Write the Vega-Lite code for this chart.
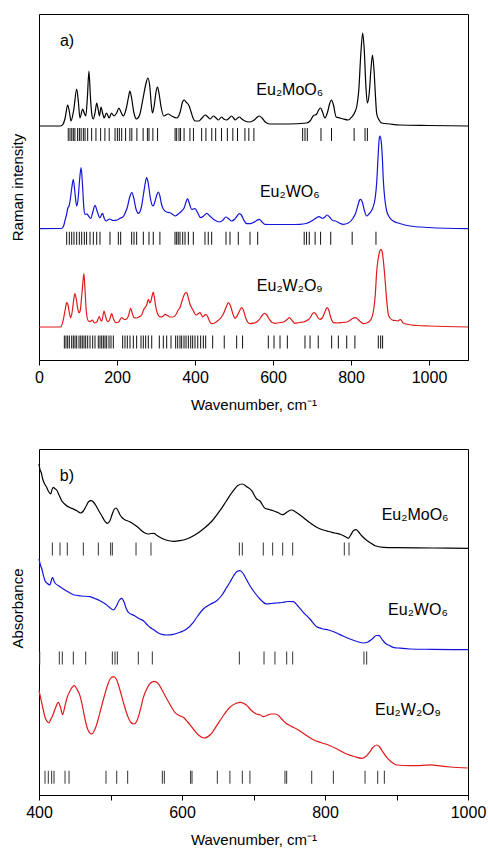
{
"$schema": "https://vega.github.io/schema/vega-lite/v6.json",
"padding": {"left": 9, "top": 13, "right": 5, "bottom": 5},
"spacing": 35,
"config": {
  "font": "Liberation Sans",
  "view": {"stroke": "black", "strokeWidth": 1},
  "axis": {"labelFont": "Liberation Sans", "titleFont": "Liberation Sans", "labelFontSize": 16, "titleFontSize": 15, "titleFontWeight": "normal", "labelColor": "black", "titleColor": "black", "domainColor": "black", "tickColor": "black", "grid": false}
},
"datasets": {
"lev": [{"s":"Eu2MoO6","lv":225.5},{"s":"Eu2WO6","lv":121.7},{"s":"Eu2W2O9","lv":18},{"s":"aMo","lv":246},{"s":"aW","lv":137},{"s":"aW2","lv":17.7}],
"ramanLab": [{"t":"a)","w":72,"v":319},{"t":"Eu₂MoO₆","w":643,"v":270},{"t":"Eu₂WO₆","w":643,"v":168},{"t":"Eu₂W₂O₉","w":643,"v":74}],
"absLab": [{"t":"b)","w":439,"v":319},{"t":"Eu₂MoO₆","w":926,"v":280},{"t":"Eu₂WO₆","w":930,"v":185},{"t":"Eu₂W₂O₉","w":916,"v":85}],
"raman": [
{"s":"Eu2MoO6","w":0,"v":234},{"s":"Eu2MoO6","w":55,"v":234},{"s":"Eu2MoO6","w":62,"v":236},{"s":"Eu2MoO6","w":67,"v":242},{"s":"Eu2MoO6","w":73.5,"v":255},{"s":"Eu2MoO6","w":78,"v":248},{"s":"Eu2MoO6","w":82,"v":239},{"s":"Eu2MoO6","w":89,"v":250},{"s":"Eu2MoO6","w":96.6,"v":271},{"s":"Eu2MoO6","w":101,"v":258},{"s":"Eu2MoO6","w":105,"v":242},{"s":"Eu2MoO6","w":112,"v":251},{"s":"Eu2MoO6","w":116,"v":247},{"s":"Eu2MoO6","w":120,"v":244},{"s":"Eu2MoO6","w":124,"v":262},{"s":"Eu2MoO6","w":128,"v":289},{"s":"Eu2MoO6","w":132,"v":262},{"s":"Eu2MoO6","w":136,"v":244},{"s":"Eu2MoO6","w":139,"v":241},{"s":"Eu2MoO6","w":144,"v":248},{"s":"Eu2MoO6","w":148,"v":257},{"s":"Eu2MoO6","w":152,"v":250},{"s":"Eu2MoO6","w":155,"v":244},{"s":"Eu2MoO6","w":159,"v":253},{"s":"Eu2MoO6","w":163,"v":247},{"s":"Eu2MoO6","w":167,"v":242},{"s":"Eu2MoO6","w":173,"v":247},{"s":"Eu2MoO6","w":180,"v":242},{"s":"Eu2MoO6","w":186,"v":247},{"s":"Eu2MoO6","w":192,"v":244},{"s":"Eu2MoO6","w":199,"v":247},{"s":"Eu2MoO6","w":205,"v":252},{"s":"Eu2MoO6","w":210,"v":248},{"s":"Eu2MoO6","w":216,"v":244},{"s":"Eu2MoO6","w":224,"v":252},{"s":"Eu2MoO6","w":229,"v":262},{"s":"Eu2MoO6","w":233,"v":269},{"s":"Eu2MoO6","w":237,"v":263},{"s":"Eu2MoO6","w":243,"v":248},{"s":"Eu2MoO6","w":250,"v":241},{"s":"Eu2MoO6","w":258,"v":245},{"s":"Eu2MoO6","w":266,"v":260},{"s":"Eu2MoO6","w":274,"v":276},{"s":"Eu2MoO6","w":279,"v":282},{"s":"Eu2MoO6","w":284,"v":274},{"s":"Eu2MoO6","w":288,"v":255},{"s":"Eu2MoO6","w":291,"v":247},{"s":"Eu2MoO6","w":296,"v":256},{"s":"Eu2MoO6","w":300,"v":268},{"s":"Eu2MoO6","w":304,"v":273},{"s":"Eu2MoO6","w":308,"v":266},{"s":"Eu2MoO6","w":313,"v":253},{"s":"Eu2MoO6","w":320,"v":244},{"s":"Eu2MoO6","w":331,"v":246},{"s":"Eu2MoO6","w":340,"v":244},{"s":"Eu2MoO6","w":353,"v":242},{"s":"Eu2MoO6","w":362,"v":248},{"s":"Eu2MoO6","w":368,"v":258},{"s":"Eu2MoO6","w":372,"v":260},{"s":"Eu2MoO6","w":377,"v":258},{"s":"Eu2MoO6","w":385,"v":254},{"s":"Eu2MoO6","w":390,"v":248},{"s":"Eu2MoO6","w":395,"v":242},{"s":"Eu2MoO6","w":400,"v":239},{"s":"Eu2MoO6","w":410,"v":239},{"s":"Eu2MoO6","w":418,"v":242},{"s":"Eu2MoO6","w":426,"v":245},{"s":"Eu2MoO6","w":433,"v":243},{"s":"Eu2MoO6","w":439,"v":241},{"s":"Eu2MoO6","w":447,"v":244},{"s":"Eu2MoO6","w":454,"v":242},{"s":"Eu2MoO6","w":460,"v":240},{"s":"Eu2MoO6","w":468,"v":243},{"s":"Eu2MoO6","w":474,"v":241},{"s":"Eu2MoO6","w":481,"v":240},{"s":"Eu2MoO6","w":488,"v":242},{"s":"Eu2MoO6","w":494,"v":244},{"s":"Eu2MoO6","w":499,"v":242},{"s":"Eu2MoO6","w":503,"v":240},{"s":"Eu2MoO6","w":509,"v":242},{"s":"Eu2MoO6","w":514,"v":243},{"s":"Eu2MoO6","w":520,"v":241},{"s":"Eu2MoO6","w":528,"v":239},{"s":"Eu2MoO6","w":540,"v":238},{"s":"Eu2MoO6","w":552,"v":240},{"s":"Eu2MoO6","w":560,"v":243},{"s":"Eu2MoO6","w":565,"v":244},{"s":"Eu2MoO6","w":572,"v":242},{"s":"Eu2MoO6","w":580,"v":238},{"s":"Eu2MoO6","w":592,"v":236},{"s":"Eu2MoO6","w":640,"v":236},{"s":"Eu2MoO6","w":686,"v":237},{"s":"Eu2MoO6","w":695,"v":239},{"s":"Eu2MoO6","w":703,"v":244},{"s":"Eu2MoO6","w":712,"v":246},{"s":"Eu2MoO6","w":717,"v":250},{"s":"Eu2MoO6","w":722,"v":252},{"s":"Eu2MoO6","w":727,"v":248},{"s":"Eu2MoO6","w":733,"v":242},{"s":"Eu2MoO6","w":740,"v":248},{"s":"Eu2MoO6","w":745,"v":256},{"s":"Eu2MoO6","w":750,"v":260},{"s":"Eu2MoO6","w":755,"v":255},{"s":"Eu2MoO6","w":762,"v":243},{"s":"Eu2MoO6","w":772,"v":242},{"s":"Eu2MoO6","w":780,"v":241},{"s":"Eu2MoO6","w":793,"v":240},{"s":"Eu2MoO6","w":802,"v":243},{"s":"Eu2MoO6","w":810,"v":248},{"s":"Eu2MoO6","w":815,"v":254},{"s":"Eu2MoO6","w":820,"v":270},{"s":"Eu2MoO6","w":825,"v":305},{"s":"Eu2MoO6","w":830,"v":327},{"s":"Eu2MoO6","w":834,"v":310},{"s":"Eu2MoO6","w":838,"v":275},{"s":"Eu2MoO6","w":842,"v":257},{"s":"Eu2MoO6","w":847,"v":268},{"s":"Eu2MoO6","w":851,"v":290},{"s":"Eu2MoO6","w":855,"v":305},{"s":"Eu2MoO6","w":859,"v":290},{"s":"Eu2MoO6","w":863,"v":262},{"s":"Eu2MoO6","w":866,"v":246},{"s":"Eu2MoO6","w":872,"v":240},{"s":"Eu2MoO6","w":879,"v":237},{"s":"Eu2MoO6","w":900,"v":236},{"s":"Eu2MoO6","w":926,"v":235},{"s":"Eu2MoO6","w":1000,"v":234.5},{"s":"Eu2MoO6","w":1100,"v":234},
{"s":"Eu2WO6","w":0,"v":131.3},{"s":"Eu2WO6","w":58,"v":131.5},{"s":"Eu2WO6","w":63,"v":134},{"s":"Eu2WO6","w":67,"v":140},{"s":"Eu2WO6","w":71,"v":146},{"s":"Eu2WO6","w":74,"v":152},{"s":"Eu2WO6","w":77,"v":154},{"s":"Eu2WO6","w":80,"v":160},{"s":"Eu2WO6","w":84,"v":172},{"s":"Eu2WO6","w":88,"v":180.7},{"s":"Eu2WO6","w":92,"v":168},{"s":"Eu2WO6","w":96.6,"v":154},{"s":"Eu2WO6","w":100,"v":160},{"s":"Eu2WO6","w":104,"v":180},{"s":"Eu2WO6","w":108,"v":192.3},{"s":"Eu2WO6","w":112,"v":172},{"s":"Eu2WO6","w":115,"v":152},{"s":"Eu2WO6","w":118,"v":145.7},{"s":"Eu2WO6","w":123,"v":146},{"s":"Eu2WO6","w":127,"v":144},{"s":"Eu2WO6","w":132.5,"v":141.7},{"s":"Eu2WO6","w":138,"v":148},{"s":"Eu2WO6","w":143.6,"v":154.7},{"s":"Eu2WO6","w":149,"v":149},{"s":"Eu2WO6","w":156,"v":142.3},{"s":"Eu2WO6","w":160,"v":145},{"s":"Eu2WO6","w":163,"v":146.7},{"s":"Eu2WO6","w":167,"v":142},{"s":"Eu2WO6","w":172,"v":139},{"s":"Eu2WO6","w":181,"v":141},{"s":"Eu2WO6","w":190,"v":139.5},{"s":"Eu2WO6","w":200,"v":140},{"s":"Eu2WO6","w":208,"v":141.7},{"s":"Eu2WO6","w":215,"v":143},{"s":"Eu2WO6","w":220,"v":146.3},{"s":"Eu2WO6","w":226,"v":152},{"s":"Eu2WO6","w":232,"v":162},{"s":"Eu2WO6","w":238,"v":167.3},{"s":"Eu2WO6","w":243,"v":162},{"s":"Eu2WO6","w":248,"v":152},{"s":"Eu2WO6","w":255,"v":146.7},{"s":"Eu2WO6","w":262,"v":152},{"s":"Eu2WO6","w":268,"v":166},{"s":"Eu2WO6","w":272,"v":176},{"s":"Eu2WO6","w":276,"v":182.3},{"s":"Eu2WO6","w":280,"v":177},{"s":"Eu2WO6","w":285,"v":163},{"s":"Eu2WO6","w":290,"v":155},{"s":"Eu2WO6","w":293,"v":154},{"s":"Eu2WO6","w":297,"v":158},{"s":"Eu2WO6","w":302,"v":165},{"s":"Eu2WO6","w":306,"v":168},{"s":"Eu2WO6","w":310,"v":164},{"s":"Eu2WO6","w":314,"v":156},{"s":"Eu2WO6","w":319,"v":150.7},{"s":"Eu2WO6","w":327,"v":148},{"s":"Eu2WO6","w":336,"v":147.3},{"s":"Eu2WO6","w":343,"v":145.5},{"s":"Eu2WO6","w":349,"v":144},{"s":"Eu2WO6","w":357,"v":146},{"s":"Eu2WO6","w":366,"v":149},{"s":"Eu2WO6","w":372,"v":152},{"s":"Eu2WO6","w":377,"v":158},{"s":"Eu2WO6","w":381,"v":161.3},{"s":"Eu2WO6","w":386,"v":156},{"s":"Eu2WO6","w":391.5,"v":150.7},{"s":"Eu2WO6","w":396,"v":151},{"s":"Eu2WO6","w":400,"v":151.3},{"s":"Eu2WO6","w":407,"v":147},{"s":"Eu2WO6","w":414.5,"v":142.3},{"s":"Eu2WO6","w":422,"v":144},{"s":"Eu2WO6","w":430,"v":146.7},{"s":"Eu2WO6","w":438,"v":144},{"s":"Eu2WO6","w":450,"v":140},{"s":"Eu2WO6","w":464,"v":138},{"s":"Eu2WO6","w":472,"v":140},{"s":"Eu2WO6","w":479,"v":143},{"s":"Eu2WO6","w":487,"v":141},{"s":"Eu2WO6","w":494,"v":139},{"s":"Eu2WO6","w":502,"v":141},{"s":"Eu2WO6","w":508,"v":144},{"s":"Eu2WO6","w":513.6,"v":146.3},{"s":"Eu2WO6","w":519,"v":145},{"s":"Eu2WO6","w":525,"v":140},{"s":"Eu2WO6","w":532.5,"v":136.3},{"s":"Eu2WO6","w":541,"v":136.3},{"s":"Eu2WO6","w":550,"v":137.5},{"s":"Eu2WO6","w":558,"v":139.5},{"s":"Eu2WO6","w":565,"v":140.7},{"s":"Eu2WO6","w":572,"v":138},{"s":"Eu2WO6","w":579.5,"v":135.7},{"s":"Eu2WO6","w":600,"v":135.5},{"s":"Eu2WO6","w":640,"v":135.5},{"s":"Eu2WO6","w":669,"v":135.7},{"s":"Eu2WO6","w":685,"v":136.5},{"s":"Eu2WO6","w":699,"v":139},{"s":"Eu2WO6","w":709,"v":141.5},{"s":"Eu2WO6","w":718,"v":143.3},{"s":"Eu2WO6","w":727,"v":141.5},{"s":"Eu2WO6","w":733,"v":143},{"s":"Eu2WO6","w":739,"v":145},{"s":"Eu2WO6","w":746,"v":142.5},{"s":"Eu2WO6","w":753,"v":139.5},{"s":"Eu2WO6","w":760,"v":139},{"s":"Eu2WO6","w":770,"v":137},{"s":"Eu2WO6","w":780,"v":135.7},{"s":"Eu2WO6","w":793,"v":137},{"s":"Eu2WO6","w":806,"v":142.3},{"s":"Eu2WO6","w":812,"v":147},{"s":"Eu2WO6","w":818,"v":155},{"s":"Eu2WO6","w":822,"v":160},{"s":"Eu2WO6","w":825,"v":160.7},{"s":"Eu2WO6","w":829,"v":158},{"s":"Eu2WO6","w":834,"v":150},{"s":"Eu2WO6","w":840,"v":144},{"s":"Eu2WO6","w":846,"v":146},{"s":"Eu2WO6","w":852,"v":149},{"s":"Eu2WO6","w":856,"v":152.3},{"s":"Eu2WO6","w":862,"v":162},{"s":"Eu2WO6","w":866,"v":178},{"s":"Eu2WO6","w":869,"v":200},{"s":"Eu2WO6","w":872,"v":220},{"s":"Eu2WO6","w":874,"v":224},{"s":"Eu2WO6","w":877,"v":220},{"s":"Eu2WO6","w":880,"v":205},{"s":"Eu2WO6","w":883,"v":179},{"s":"Eu2WO6","w":887,"v":160},{"s":"Eu2WO6","w":891.5,"v":149},{"s":"Eu2WO6","w":898,"v":143},{"s":"Eu2WO6","w":908.5,"v":139},{"s":"Eu2WO6","w":925,"v":136.5},{"s":"Eu2WO6","w":951,"v":134},{"s":"Eu2WO6","w":1000,"v":132.5},{"s":"Eu2WO6","w":1100,"v":131.3},
{"s":"Eu2W2O9","w":0,"v":33},{"s":"Eu2W2O9","w":55.6,"v":33},{"s":"Eu2W2O9","w":62,"v":39.7},{"s":"Eu2W2O9","w":67,"v":50},{"s":"Eu2W2O9","w":71,"v":57.3},{"s":"Eu2W2O9","w":75,"v":54},{"s":"Eu2W2O9","w":78,"v":47},{"s":"Eu2W2O9","w":81,"v":42.3},{"s":"Eu2W2O9","w":85,"v":48},{"s":"Eu2W2O9","w":89,"v":60},{"s":"Eu2W2O9","w":92,"v":66.3},{"s":"Eu2W2O9","w":96,"v":60},{"s":"Eu2W2O9","w":100,"v":50},{"s":"Eu2W2O9","w":103,"v":47.3},{"s":"Eu2W2O9","w":106,"v":50},{"s":"Eu2W2O9","w":109,"v":62},{"s":"Eu2W2O9","w":112,"v":75},{"s":"Eu2W2O9","w":115,"v":86.3},{"s":"Eu2W2O9","w":118,"v":70},{"s":"Eu2W2O9","w":121,"v":50},{"s":"Eu2W2O9","w":126.5,"v":39},{"s":"Eu2W2O9","w":131,"v":38.5},{"s":"Eu2W2O9","w":137,"v":40},{"s":"Eu2W2O9","w":142,"v":37},{"s":"Eu2W2O9","w":148,"v":38},{"s":"Eu2W2O9","w":154.7,"v":43.3},{"s":"Eu2W2O9","w":158,"v":40},{"s":"Eu2W2O9","w":161,"v":39},{"s":"Eu2W2O9","w":166.7,"v":49},{"s":"Eu2W2O9","w":171,"v":43},{"s":"Eu2W2O9","w":176,"v":38.3},{"s":"Eu2W2O9","w":181,"v":40},{"s":"Eu2W2O9","w":186.3,"v":46.3},{"s":"Eu2W2O9","w":191,"v":41},{"s":"Eu2W2O9","w":197.4,"v":37.3},{"s":"Eu2W2O9","w":204,"v":38},{"s":"Eu2W2O9","w":212,"v":42.3},{"s":"Eu2W2O9","w":219,"v":40.5},{"s":"Eu2W2O9","w":225,"v":41},{"s":"Eu2W2O9","w":230,"v":45},{"s":"Eu2W2O9","w":235,"v":51.7},{"s":"Eu2W2O9","w":239,"v":47},{"s":"Eu2W2O9","w":243.6,"v":42.3},{"s":"Eu2W2O9","w":250,"v":42},{"s":"Eu2W2O9","w":256,"v":43},{"s":"Eu2W2O9","w":263.3,"v":45},{"s":"Eu2W2O9","w":268,"v":50},{"s":"Eu2W2O9","w":271.8,"v":52.3},{"s":"Eu2W2O9","w":276,"v":55},{"s":"Eu2W2O9","w":280.3,"v":60.7},{"s":"Eu2W2O9","w":284,"v":57},{"s":"Eu2W2O9","w":287,"v":59},{"s":"Eu2W2O9","w":290,"v":64},{"s":"Eu2W2O9","w":293,"v":68},{"s":"Eu2W2O9","w":296,"v":62},{"s":"Eu2W2O9","w":300,"v":52},{"s":"Eu2W2O9","w":304,"v":46.3},{"s":"Eu2W2O9","w":309,"v":43.5},{"s":"Eu2W2O9","w":314.5,"v":43},{"s":"Eu2W2O9","w":319,"v":44},{"s":"Eu2W2O9","w":323,"v":45.7},{"s":"Eu2W2O9","w":330,"v":44.5},{"s":"Eu2W2O9","w":336,"v":43},{"s":"Eu2W2O9","w":344,"v":43},{"s":"Eu2W2O9","w":352,"v":46},{"s":"Eu2W2O9","w":357,"v":50},{"s":"Eu2W2O9","w":361.5,"v":52.3},{"s":"Eu2W2O9","w":366,"v":58},{"s":"Eu2W2O9","w":371,"v":64},{"s":"Eu2W2O9","w":375,"v":67},{"s":"Eu2W2O9","w":378.6,"v":67.3},{"s":"Eu2W2O9","w":383,"v":62},{"s":"Eu2W2O9","w":387,"v":56},{"s":"Eu2W2O9","w":391.5,"v":52.3},{"s":"Eu2W2O9","w":396,"v":49},{"s":"Eu2W2O9","w":402.6,"v":45},{"s":"Eu2W2O9","w":407,"v":46},{"s":"Eu2W2O9","w":412.8,"v":47.3},{"s":"Eu2W2O9","w":416,"v":45.5},{"s":"Eu2W2O9","w":419.7,"v":43},{"s":"Eu2W2O9","w":424,"v":44.5},{"s":"Eu2W2O9","w":428,"v":45.7},{"s":"Eu2W2O9","w":433,"v":43},{"s":"Eu2W2O9","w":437,"v":39},{"s":"Eu2W2O9","w":442.7,"v":36.3},{"s":"Eu2W2O9","w":450,"v":37},{"s":"Eu2W2O9","w":459.8,"v":39.7},{"s":"Eu2W2O9","w":468,"v":43},{"s":"Eu2W2O9","w":475,"v":48},{"s":"Eu2W2O9","w":481,"v":54},{"s":"Eu2W2O9","w":485.5,"v":57.3},{"s":"Eu2W2O9","w":490,"v":55},{"s":"Eu2W2O9","w":495,"v":49},{"s":"Eu2W2O9","w":499,"v":44},{"s":"Eu2W2O9","w":502.6,"v":41.7},{"s":"Eu2W2O9","w":508,"v":44},{"s":"Eu2W2O9","w":514,"v":49},{"s":"Eu2W2O9","w":519.7,"v":52.3},{"s":"Eu2W2O9","w":524,"v":50},{"s":"Eu2W2O9","w":530,"v":42},{"s":"Eu2W2O9","w":535,"v":38},{"s":"Eu2W2O9","w":541,"v":36.3},{"s":"Eu2W2O9","w":550,"v":36.8},{"s":"Eu2W2O9","w":560,"v":38.5},{"s":"Eu2W2O9","w":566,"v":41},{"s":"Eu2W2O9","w":572,"v":44.5},{"s":"Eu2W2O9","w":577.8,"v":46.7},{"s":"Eu2W2O9","w":584,"v":45},{"s":"Eu2W2O9","w":590,"v":41},{"s":"Eu2W2O9","w":596,"v":38},{"s":"Eu2W2O9","w":605,"v":36.7},{"s":"Eu2W2O9","w":620,"v":37.5},{"s":"Eu2W2O9","w":630,"v":38.5},{"s":"Eu2W2O9","w":636,"v":40.5},{"s":"Eu2W2O9","w":641.9,"v":42.3},{"s":"Eu2W2O9","w":648,"v":40},{"s":"Eu2W2O9","w":656.4,"v":36.7},{"s":"Eu2W2O9","w":667,"v":37.5},{"s":"Eu2W2O9","w":677.8,"v":38},{"s":"Eu2W2O9","w":687,"v":39.5},{"s":"Eu2W2O9","w":695,"v":42},{"s":"Eu2W2O9","w":700,"v":45.5},{"s":"Eu2W2O9","w":705,"v":47.3},{"s":"Eu2W2O9","w":710,"v":46},{"s":"Eu2W2O9","w":715,"v":42.5},{"s":"Eu2W2O9","w":720.5,"v":40.7},{"s":"Eu2W2O9","w":726,"v":42},{"s":"Eu2W2O9","w":731,"v":46},{"s":"Eu2W2O9","w":735,"v":50},{"s":"Eu2W2O9","w":739,"v":52.3},{"s":"Eu2W2O9","w":743,"v":50},{"s":"Eu2W2O9","w":747,"v":44},{"s":"Eu2W2O9","w":751,"v":39.5},{"s":"Eu2W2O9","w":754.7,"v":37.3},{"s":"Eu2W2O9","w":765,"v":37},{"s":"Eu2W2O9","w":778,"v":37.5},{"s":"Eu2W2O9","w":789,"v":38},{"s":"Eu2W2O9","w":797,"v":39.5},{"s":"Eu2W2O9","w":804,"v":41.5},{"s":"Eu2W2O9","w":811,"v":42.3},{"s":"Eu2W2O9","w":818,"v":40.5},{"s":"Eu2W2O9","w":825,"v":38},{"s":"Eu2W2O9","w":831.6,"v":36.3},{"s":"Eu2W2O9","w":840,"v":37},{"s":"Eu2W2O9","w":847,"v":38.5},{"s":"Eu2W2O9","w":853,"v":42},{"s":"Eu2W2O9","w":858,"v":50},{"s":"Eu2W2O9","w":862,"v":64},{"s":"Eu2W2O9","w":866,"v":89},{"s":"Eu2W2O9","w":870,"v":102},{"s":"Eu2W2O9","w":874,"v":109},{"s":"Eu2W2O9","w":877,"v":110.7},{"s":"Eu2W2O9","w":880,"v":108},{"s":"Eu2W2O9","w":883,"v":99},{"s":"Eu2W2O9","w":887,"v":82.3},{"s":"Eu2W2O9","w":891,"v":62},{"s":"Eu2W2O9","w":895.7,"v":45.7},{"s":"Eu2W2O9","w":900,"v":42},{"s":"Eu2W2O9","w":908.5,"v":39.7},{"s":"Eu2W2O9","w":915,"v":39.5},{"s":"Eu2W2O9","w":920,"v":39},{"s":"Eu2W2O9","w":924,"v":40},{"s":"Eu2W2O9","w":927,"v":40.5},{"s":"Eu2W2O9","w":930,"v":39},{"s":"Eu2W2O9","w":934,"v":37},{"s":"Eu2W2O9","w":947,"v":35.5},{"s":"Eu2W2O9","w":970,"v":34.5},{"s":"Eu2W2O9","w":1000,"v":34},{"s":"Eu2W2O9","w":1100,"v":33}
],
"ramanTicks": [
{"s":"Eu2MoO6","w":75},{"s":"Eu2MoO6","w":79.5},{"s":"Eu2MoO6","w":84},{"s":"Eu2MoO6","w":88},{"s":"Eu2MoO6","w":92},{"s":"Eu2MoO6","w":99},{"s":"Eu2MoO6","w":103.6},{"s":"Eu2MoO6","w":108},{"s":"Eu2MoO6","w":113.7},{"s":"Eu2MoO6","w":118},{"s":"Eu2MoO6","w":124.8},{"s":"Eu2MoO6","w":135},{"s":"Eu2MoO6","w":146},{"s":"Eu2MoO6","w":158},{"s":"Eu2MoO6","w":169},{"s":"Eu2MoO6","w":180},{"s":"Eu2MoO6","w":195},{"s":"Eu2MoO6","w":201},{"s":"Eu2MoO6","w":206},{"s":"Eu2MoO6","w":212},{"s":"Eu2MoO6","w":222},{"s":"Eu2MoO6","w":233},{"s":"Eu2MoO6","w":238},{"s":"Eu2MoO6","w":251},{"s":"Eu2MoO6","w":267},{"s":"Eu2MoO6","w":278},{"s":"Eu2MoO6","w":282},{"s":"Eu2MoO6","w":292},{"s":"Eu2MoO6","w":304},{"s":"Eu2MoO6","w":349},{"s":"Eu2MoO6","w":353},{"s":"Eu2MoO6","w":359},{"s":"Eu2MoO6","w":363},{"s":"Eu2MoO6","w":372},{"s":"Eu2MoO6","w":387},{"s":"Eu2MoO6","w":396},{"s":"Eu2MoO6","w":417},{"s":"Eu2MoO6","w":428},{"s":"Eu2MoO6","w":443},{"s":"Eu2MoO6","w":453},{"s":"Eu2MoO6","w":468},{"s":"Eu2MoO6","w":483},{"s":"Eu2MoO6","w":497},{"s":"Eu2MoO6","w":509},{"s":"Eu2MoO6","w":528},{"s":"Eu2MoO6","w":538},{"s":"Eu2MoO6","w":551},{"s":"Eu2MoO6","w":676},{"s":"Eu2MoO6","w":682},{"s":"Eu2MoO6","w":688},{"s":"Eu2MoO6","w":723},{"s":"Eu2MoO6","w":750},{"s":"Eu2MoO6","w":808},{"s":"Eu2MoO6","w":836},{"s":"Eu2MoO6","w":842},
{"s":"Eu2WO6","w":71},{"s":"Eu2WO6","w":77.8},{"s":"Eu2WO6","w":83.8},{"s":"Eu2WO6","w":89.7},{"s":"Eu2WO6","w":96.6},{"s":"Eu2WO6","w":103.4},{"s":"Eu2WO6","w":109.4},{"s":"Eu2WO6","w":116.2},{"s":"Eu2WO6","w":122},{"s":"Eu2WO6","w":130.8},{"s":"Eu2WO6","w":139.3},{"s":"Eu2WO6","w":147.9},{"s":"Eu2WO6","w":156.4},{"s":"Eu2WO6","w":182},{"s":"Eu2WO6","w":203.4},{"s":"Eu2WO6","w":209.4},{"s":"Eu2WO6","w":237.6},{"s":"Eu2WO6","w":243.6},{"s":"Eu2WO6","w":250.4},{"s":"Eu2WO6","w":267.5},{"s":"Eu2WO6","w":282},{"s":"Eu2WO6","w":293},{"s":"Eu2WO6","w":310},{"s":"Eu2WO6","w":348.7},{"s":"Eu2WO6","w":353},{"s":"Eu2WO6","w":357},{"s":"Eu2WO6","w":361.5},{"s":"Eu2WO6","w":368.4},{"s":"Eu2WO6","w":374.4},{"s":"Eu2WO6","w":383},{"s":"Eu2WO6","w":395.7},{"s":"Eu2WO6","w":425.6},{"s":"Eu2WO6","w":434},{"s":"Eu2WO6","w":442.7},{"s":"Eu2WO6","w":479.5},{"s":"Eu2WO6","w":489.7},{"s":"Eu2WO6","w":511},{"s":"Eu2WO6","w":541},{"s":"Eu2WO6","w":560.7},{"s":"Eu2WO6","w":680},{"s":"Eu2WO6","w":686},{"s":"Eu2WO6","w":693},{"s":"Eu2WO6","w":708},{"s":"Eu2WO6","w":722},{"s":"Eu2WO6","w":748},{"s":"Eu2WO6","w":803},{"s":"Eu2WO6","w":864},
{"s":"Eu2W2O9","w":65},{"s":"Eu2W2O9","w":69.2},{"s":"Eu2W2O9","w":73.5},{"s":"Eu2W2O9","w":77.8},{"s":"Eu2W2O9","w":83.8},{"s":"Eu2W2O9","w":88},{"s":"Eu2W2O9","w":92.3},{"s":"Eu2W2O9","w":96.6},{"s":"Eu2W2O9","w":102.6},{"s":"Eu2W2O9","w":107},{"s":"Eu2W2O9","w":111},{"s":"Eu2W2O9","w":115.4},{"s":"Eu2W2O9","w":119.7},{"s":"Eu2W2O9","w":124.8},{"s":"Eu2W2O9","w":130.8},{"s":"Eu2W2O9","w":137.6},{"s":"Eu2W2O9","w":143.6},{"s":"Eu2W2O9","w":152},{"s":"Eu2W2O9","w":156.4},{"s":"Eu2W2O9","w":160.7},{"s":"Eu2W2O9","w":165},{"s":"Eu2W2O9","w":169.2},{"s":"Eu2W2O9","w":173.5},{"s":"Eu2W2O9","w":179.5},{"s":"Eu2W2O9","w":184.6},{"s":"Eu2W2O9","w":190.6},{"s":"Eu2W2O9","w":214.5},{"s":"Eu2W2O9","w":220.5},{"s":"Eu2W2O9","w":226.5},{"s":"Eu2W2O9","w":233.3},{"s":"Eu2W2O9","w":241.9},{"s":"Eu2W2O9","w":250.4},{"s":"Eu2W2O9","w":261.5},{"s":"Eu2W2O9","w":267.5},{"s":"Eu2W2O9","w":273.5},{"s":"Eu2W2O9","w":280.3},{"s":"Eu2W2O9","w":289},{"s":"Eu2W2O9","w":308.5},{"s":"Eu2W2O9","w":318.8},{"s":"Eu2W2O9","w":327.4},{"s":"Eu2W2O9","w":338.5},{"s":"Eu2W2O9","w":350.4},{"s":"Eu2W2O9","w":355.6},{"s":"Eu2W2O9","w":361.5},{"s":"Eu2W2O9","w":365.8},{"s":"Eu2W2O9","w":371.8},{"s":"Eu2W2O9","w":377},{"s":"Eu2W2O9","w":383},{"s":"Eu2W2O9","w":389},{"s":"Eu2W2O9","w":394},{"s":"Eu2W2O9","w":400},{"s":"Eu2W2O9","w":407},{"s":"Eu2W2O9","w":414.5},{"s":"Eu2W2O9","w":421.4},{"s":"Eu2W2O9","w":427.4},{"s":"Eu2W2O9","w":445.3},{"s":"Eu2W2O9","w":475},{"s":"Eu2W2O9","w":506.8},{"s":"Eu2W2O9","w":522},{"s":"Eu2W2O9","w":588},{"s":"Eu2W2O9","w":602.6},{"s":"Eu2W2O9","w":618},{"s":"Eu2W2O9","w":636.8},{"s":"Eu2W2O9","w":682},{"s":"Eu2W2O9","w":695},{"s":"Eu2W2O9","w":716},{"s":"Eu2W2O9","w":750.4},{"s":"Eu2W2O9","w":767.5},{"s":"Eu2W2O9","w":789},{"s":"Eu2W2O9","w":810},{"s":"Eu2W2O9","w":870},{"s":"Eu2W2O9","w":876},{"s":"Eu2W2O9","w":881}
],
"abs": [
{"s":"aMo","w":400,"v":331},{"s":"aMo","w":401.5,"v":325},{"s":"aMo","w":403,"v":322.7},{"s":"aMo","w":404.5,"v":318},{"s":"aMo","w":406,"v":314.3},{"s":"aMo","w":408,"v":311},{"s":"aMo","w":410.7,"v":307.7},{"s":"aMo","w":413,"v":304},{"s":"aMo","w":416.4,"v":301},{"s":"aMo","w":418,"v":305},{"s":"aMo","w":420,"v":307.7},{"s":"aMo","w":422,"v":306.5},{"s":"aMo","w":424.7,"v":305},{"s":"aMo","w":428,"v":300},{"s":"aMo","w":431.7,"v":294.3},{"s":"aMo","w":435,"v":291.5},{"s":"aMo","w":438.7,"v":289.3},{"s":"aMo","w":443,"v":287.5},{"s":"aMo","w":448,"v":286},{"s":"aMo","w":453,"v":284.3},{"s":"aMo","w":458.3,"v":282},{"s":"aMo","w":462,"v":284},{"s":"aMo","w":466,"v":289},{"s":"aMo","w":469,"v":293},{"s":"aMo","w":472.7,"v":294.3},{"s":"aMo","w":476,"v":293},{"s":"aMo","w":480,"v":289},{"s":"aMo","w":483,"v":285},{"s":"aMo","w":488,"v":279},{"s":"aMo","w":492,"v":274},{"s":"aMo","w":495.5,"v":271.7},{"s":"aMo","w":499,"v":274},{"s":"aMo","w":502,"v":280},{"s":"aMo","w":505,"v":285.5},{"s":"aMo","w":507.7,"v":287},{"s":"aMo","w":510,"v":285},{"s":"aMo","w":513,"v":280.5},{"s":"aMo","w":516,"v":277.5},{"s":"aMo","w":520,"v":275.3},{"s":"aMo","w":526,"v":273.5},{"s":"aMo","w":532,"v":271},{"s":"aMo","w":538,"v":268},{"s":"aMo","w":543.6,"v":264.3},{"s":"aMo","w":548,"v":262},{"s":"aMo","w":552.9,"v":261},{"s":"aMo","w":557,"v":261.5},{"s":"aMo","w":560.8,"v":261.7},{"s":"aMo","w":565,"v":259.5},{"s":"aMo","w":571.6,"v":256.7},{"s":"aMo","w":580,"v":254.5},{"s":"aMo","w":587.9,"v":253.7},{"s":"aMo","w":597,"v":254.3},{"s":"aMo","w":606.5,"v":256},{"s":"aMo","w":618,"v":260},{"s":"aMo","w":629.8,"v":266},{"s":"aMo","w":642,"v":274},{"s":"aMo","w":653,"v":284.3},{"s":"aMo","w":662,"v":294},{"s":"aMo","w":671.8,"v":304.3},{"s":"aMo","w":678,"v":309.5},{"s":"aMo","w":684.4,"v":311},{"s":"aMo","w":690,"v":308.5},{"s":"aMo","w":697.5,"v":304.3},{"s":"aMo","w":704.5,"v":296},{"s":"aMo","w":709,"v":294},{"s":"aMo","w":716,"v":286.7},{"s":"aMo","w":722,"v":285.5},{"s":"aMo","w":727.7,"v":284.3},{"s":"aMo","w":734,"v":282.5},{"s":"aMo","w":740.8,"v":280.3},{"s":"aMo","w":747,"v":283},{"s":"aMo","w":753.4,"v":285},{"s":"aMo","w":759,"v":283},{"s":"aMo","w":765,"v":280},{"s":"aMo","w":773,"v":275.5},{"s":"aMo","w":781.4,"v":271},{"s":"aMo","w":789,"v":267.5},{"s":"aMo","w":797.6,"v":265},{"s":"aMo","w":805,"v":263.5},{"s":"aMo","w":814,"v":262},{"s":"aMo","w":822,"v":260.5},{"s":"aMo","w":828,"v":258.5},{"s":"aMo","w":832.6,"v":256.7},{"s":"aMo","w":836,"v":260},{"s":"aMo","w":840,"v":264.5},{"s":"aMo","w":843.4,"v":265.3},{"s":"aMo","w":847,"v":263},{"s":"aMo","w":851,"v":259.5},{"s":"aMo","w":856,"v":256},{"s":"aMo","w":863,"v":252.5},{"s":"aMo","w":870,"v":249.3},{"s":"aMo","w":881.5,"v":247.7},{"s":"aMo","w":900,"v":247.3},{"s":"aMo","w":950,"v":247},{"s":"aMo","w":1000,"v":246.7},
{"s":"aW","w":400,"v":236},{"s":"aW","w":402,"v":230},{"s":"aW","w":404,"v":226},{"s":"aW","w":406,"v":220},{"s":"aW","w":408.4,"v":214.3},{"s":"aW","w":411,"v":212},{"s":"aW","w":415.4,"v":210},{"s":"aW","w":417,"v":214},{"s":"aW","w":419,"v":217.7},{"s":"aW","w":421,"v":214},{"s":"aW","w":422.4,"v":212},{"s":"aW","w":428,"v":209},{"s":"aW","w":434,"v":206},{"s":"aW","w":441,"v":203},{"s":"aW","w":448,"v":200.3},{"s":"aW","w":460,"v":199},{"s":"aW","w":471.3,"v":198.3},{"s":"aW","w":478,"v":196.5},{"s":"aW","w":485.3,"v":194.3},{"s":"aW","w":492,"v":191.5},{"s":"aW","w":498,"v":188},{"s":"aW","w":504,"v":185},{"s":"aW","w":508,"v":188.5},{"s":"aW","w":512,"v":194.5},{"s":"aW","w":515.6,"v":196.7},{"s":"aW","w":519,"v":193},{"s":"aW","w":522,"v":186.5},{"s":"aW","w":525,"v":182.7},{"s":"aW","w":533,"v":179.5},{"s":"aW","w":541,"v":176},{"s":"aW","w":546,"v":174.3},{"s":"aW","w":551,"v":170.5},{"s":"aW","w":555,"v":167.7},{"s":"aW","w":560,"v":165.5},{"s":"aW","w":566.9,"v":162},{"s":"aW","w":572,"v":160.7},{"s":"aW","w":578.6,"v":160},{"s":"aW","w":588,"v":160.7},{"s":"aW","w":597,"v":162.7},{"s":"aW","w":606.5,"v":166},{"s":"aW","w":615.8,"v":172.7},{"s":"aW","w":622,"v":179},{"s":"aW","w":629.8,"v":186},{"s":"aW","w":639,"v":190.5},{"s":"aW","w":648.5,"v":194.3},{"s":"aW","w":656,"v":200},{"s":"aW","w":662,"v":207},{"s":"aW","w":667,"v":212.7},{"s":"aW","w":672,"v":219},{"s":"aW","w":677,"v":223.5},{"s":"aW","w":681,"v":224.3},{"s":"aW","w":685,"v":222},{"s":"aW","w":689,"v":217},{"s":"aW","w":695,"v":209.3},{"s":"aW","w":702,"v":202},{"s":"aW","w":709,"v":196},{"s":"aW","w":718.5,"v":191},{"s":"aW","w":725,"v":191.5},{"s":"aW","w":732.5,"v":192},{"s":"aW","w":740,"v":192.5},{"s":"aW","w":748,"v":193.5},{"s":"aW","w":755.7,"v":193.3},{"s":"aW","w":762,"v":189},{"s":"aW","w":769.7,"v":182.7},{"s":"aW","w":779,"v":176},{"s":"aW","w":788,"v":168.5},{"s":"aW","w":795,"v":166.5},{"s":"aW","w":805,"v":165},{"s":"aW","w":816.4,"v":162},{"s":"aW","w":825,"v":159},{"s":"aW","w":835,"v":156},{"s":"aW","w":845,"v":153.5},{"s":"aW","w":853.6,"v":152},{"s":"aW","w":860,"v":153},{"s":"aW","w":866,"v":156},{"s":"aW","w":872,"v":159.5},{"s":"aW","w":876,"v":159.3},{"s":"aW","w":880,"v":155.5},{"s":"aW","w":884,"v":152},{"s":"aW","w":890,"v":149.5},{"s":"aW","w":895.5,"v":147.7},{"s":"aW","w":905,"v":146.8},{"s":"aW","w":918.9,"v":146},{"s":"aW","w":950,"v":145.7},{"s":"aW","w":1000,"v":145.3},
{"s":"aW2","w":400,"v":104.3},{"s":"aW2","w":402,"v":98},{"s":"aW2","w":403.7,"v":92.7},{"s":"aW2","w":406,"v":85},{"s":"aW2","w":408.4,"v":77.7},{"s":"aW2","w":411,"v":74},{"s":"aW2","w":414,"v":72},{"s":"aW2","w":416,"v":75},{"s":"aW2","w":419,"v":79.3},{"s":"aW2","w":423,"v":87},{"s":"aW2","w":427,"v":92.7},{"s":"aW2","w":430,"v":88},{"s":"aW2","w":433,"v":80.3},{"s":"aW2","w":436,"v":88},{"s":"aW2","w":438.7,"v":96},{"s":"aW2","w":444,"v":105},{"s":"aW2","w":449.4,"v":109.3},{"s":"aW2","w":453,"v":106},{"s":"aW2","w":457.3,"v":99.3},{"s":"aW2","w":461,"v":88},{"s":"aW2","w":464.3,"v":76},{"s":"aW2","w":468,"v":66},{"s":"aW2","w":473.7,"v":61},{"s":"aW2","w":479,"v":67},{"s":"aW2","w":485.3,"v":82.7},{"s":"aW2","w":491,"v":98},{"s":"aW2","w":496,"v":110},{"s":"aW2","w":500,"v":116.5},{"s":"aW2","w":504,"v":118.3},{"s":"aW2","w":508,"v":116},{"s":"aW2","w":512,"v":108},{"s":"aW2","w":518,"v":92.7},{"s":"aW2","w":524,"v":79},{"s":"aW2","w":528,"v":73},{"s":"aW2","w":532.9,"v":71},{"s":"aW2","w":538,"v":76},{"s":"aW2","w":542,"v":86},{"s":"aW2","w":546,"v":97.7},{"s":"aW2","w":551,"v":106.5},{"s":"aW2","w":556,"v":112},{"s":"aW2","w":560.8,"v":113.7},{"s":"aW2","w":566,"v":112},{"s":"aW2","w":573.8,"v":102.7},{"s":"aW2","w":582,"v":92},{"s":"aW2","w":590,"v":82.7},{"s":"aW2","w":596,"v":79.5},{"s":"aW2","w":601.8,"v":77.7},{"s":"aW2","w":608,"v":73},{"s":"aW2","w":615.8,"v":66},{"s":"aW2","w":623,"v":60},{"s":"aW2","w":631.2,"v":57},{"s":"aW2","w":640,"v":60.5},{"s":"aW2","w":648.5,"v":69.3},{"s":"aW2","w":657,"v":78.5},{"s":"aW2","w":667,"v":87.7},{"s":"aW2","w":675,"v":91.5},{"s":"aW2","w":682,"v":92.7},{"s":"aW2","w":690,"v":90},{"s":"aW2","w":697.5,"v":84.3},{"s":"aW2","w":704,"v":81},{"s":"aW2","w":709,"v":80.3},{"s":"aW2","w":713.7,"v":78.3},{"s":"aW2","w":720,"v":80},{"s":"aW2","w":725,"v":81},{"s":"aW2","w":730,"v":81},{"s":"aW2","w":735,"v":79.5},{"s":"aW2","w":739.4,"v":76},{"s":"aW2","w":745,"v":72},{"s":"aW2","w":752,"v":69},{"s":"aW2","w":760.4,"v":66},{"s":"aW2","w":772,"v":60.5},{"s":"aW2","w":783.6,"v":55.3},{"s":"aW2","w":795,"v":52.3},{"s":"aW2","w":807,"v":49.3},{"s":"aW2","w":818,"v":45.5},{"s":"aW2","w":830.3,"v":41},{"s":"aW2","w":841,"v":38.5},{"s":"aW2","w":851.3,"v":36.7},{"s":"aW2","w":857,"v":38.5},{"s":"aW2","w":862,"v":42.5},{"s":"aW2","w":867,"v":47.5},{"s":"aW2","w":872.3,"v":50},{"s":"aW2","w":876,"v":48.5},{"s":"aW2","w":881,"v":43},{"s":"aW2","w":886.3,"v":37.7},{"s":"aW2","w":893,"v":33},{"s":"aW2","w":900.3,"v":30},{"s":"aW2","w":910,"v":29.5},{"s":"aW2","w":928.2,"v":29.3},{"s":"aW2","w":940,"v":29.8},{"s":"aW2","w":949,"v":30.2},{"s":"aW2","w":958,"v":29.3},{"s":"aW2","w":975,"v":28},{"s":"aW2","w":1000,"v":27}
],
"absTicks": [
{"s":"aMo","w":418.7},{"s":"aMo","w":429.4},{"s":"aMo","w":439.6},{"s":"aMo","w":462},{"s":"aMo","w":483},{"s":"aMo","w":500.2},{"s":"aMo","w":502.6},{"s":"aMo","w":535.7},{"s":"aMo","w":556.6},{"s":"aMo","w":680.2},{"s":"aMo","w":684.4},{"s":"aMo","w":713.7},{"s":"aMo","w":726.8},{"s":"aMo","w":740.8},{"s":"aMo","w":754.8},{"s":"aMo","w":827},{"s":"aMo","w":833.6},
{"s":"aW","w":401},{"s":"aW","w":428.4},{"s":"aW","w":432.6},{"s":"aW","w":448},{"s":"aW","w":465.3},{"s":"aW","w":502.6},{"s":"aW","w":506.3},{"s":"aW","w":509.6},{"s":"aW","w":538.9},{"s":"aW","w":558.5},{"s":"aW","w":680.2},{"s":"aW","w":714.7},{"s":"aW","w":730},{"s":"aW","w":746.4},{"s":"aW","w":754.8},{"s":"aW","w":854.5},{"s":"aW","w":858.3},
{"s":"aW2","w":408.4},{"s":"aW2","w":413},{"s":"aW2","w":417.7},{"s":"aW2","w":421},{"s":"aW2","w":436.4},{"s":"aW2","w":442},{"s":"aW2","w":493.7},{"s":"aW2","w":508.7},{"s":"aW2","w":524},{"s":"aW2","w":572.5},{"s":"aW2","w":575.3},{"s":"aW2","w":612},{"s":"aW2","w":614},{"s":"aW2","w":649.4},{"s":"aW2","w":667},{"s":"aW2","w":684.4},{"s":"aW2","w":695},{"s":"aW2","w":744},{"s":"aW2","w":746.4},{"s":"aW2","w":781.4},{"s":"aW2","w":811.7},{"s":"aW2","w":856},{"s":"aW2","w":873.7},{"s":"aW2","w":883}
]
},
"vconcat": [
{
 "width": 429, "height": 346,
 "layer": [
  {"data": {"name": "raman"},
   "mark": {"type": "line", "interpolate": "monotone", "strokeWidth": 1.2},
   "encoding": {
    "x": {"field": "w", "type": "quantitative", "scale": {"domain": [0, 1100], "nice": false},
          "axis": {"title": "Wavenumber, cm⁻¹", "values": [0,100,200,300,400,500,600,700,800,900,1000,1100], "labelExpr": "datum.value % 200 === 0 ? datum.label : ''", "format": "d", "tickSize": 5, "labelPadding": 4, "titlePadding": 12, "labelFlush": false, "labelOverlap": false}},
    "y": {"field": "v", "type": "quantitative", "scale": {"domain": [0, 346], "nice": false, "zero": false},
          "axis": {"title": "Raman intensity", "labels": false, "ticks": false, "domain": false, "titlePadding": 14}},
    "color": {"field": "s", "type": "nominal", "scale": {"domain": ["Eu2MoO6", "Eu2WO6", "Eu2W2O9"], "range": ["#000000", "#1414dc", "#e01a1a"]}, "legend": null}
   }},
  {"data": {"name": "ramanTicks"},
   "transform": [{"lookup": "s", "from": {"data": {"name": "lev"}, "key": "s", "fields": ["lv"]}}],
   "mark": {"type": "tick", "orient": "vertical", "size": 13, "thickness": 1, "color": "#111111", "opacity": 1},
   "encoding": {"x": {"field": "w", "type": "quantitative"}, "y": {"field": "lv", "type": "quantitative"}}},
  {"data": {"name": "ramanLab"},
   "mark": {"type": "text", "fontSize": 16, "align": "center", "baseline": "middle", "color": "black"},
   "encoding": {"x": {"field": "w", "type": "quantitative"}, "y": {"field": "v", "type": "quantitative"}, "text": {"field": "t"}}}
 ]
},
{
 "width": 429, "height": 346,
 "layer": [
  {"data": {"name": "abs"},
   "mark": {"type": "line", "interpolate": "monotone", "strokeWidth": 1.2},
   "encoding": {
    "x": {"field": "w", "type": "quantitative", "scale": {"domain": [400, 1000], "nice": false},
          "axis": {"title": "Wavenumber, cm⁻¹", "values": [400,500,600,700,800,900,1000], "labelExpr": "datum.value % 200 === 0 ? datum.label : ''", "format": "d", "tickSize": 5, "labelPadding": 4, "titlePadding": 12, "labelFlush": false, "labelOverlap": false}},
    "y": {"field": "v", "type": "quantitative", "scale": {"domain": [0, 346], "nice": false, "zero": false},
          "axis": {"title": "Absorbance", "labels": false, "ticks": false, "domain": false, "titlePadding": 14, "titleY": 159}},
    "color": {"field": "s", "type": "nominal", "scale": {"domain": ["aMo", "aW", "aW2"], "range": ["#000000", "#1414dc", "#e01a1a"]}, "legend": null}
   }},
  {"data": {"name": "absTicks"},
   "transform": [{"lookup": "s", "from": {"data": {"name": "lev"}, "key": "s", "fields": ["lv"]}}],
   "mark": {"type": "tick", "orient": "vertical", "size": 13, "thickness": 1, "color": "#333333", "opacity": 1},
   "encoding": {"x": {"field": "w", "type": "quantitative"}, "y": {"field": "lv", "type": "quantitative"}}},
  {"data": {"name": "absLab"},
   "mark": {"type": "text", "fontSize": 16, "align": "center", "baseline": "middle", "color": "black"},
   "encoding": {"x": {"field": "w", "type": "quantitative"}, "y": {"field": "v", "type": "quantitative"}, "text": {"field": "t"}}}
 ]
}
],
"resolve": {"scale": {"color": "independent"}}
}
